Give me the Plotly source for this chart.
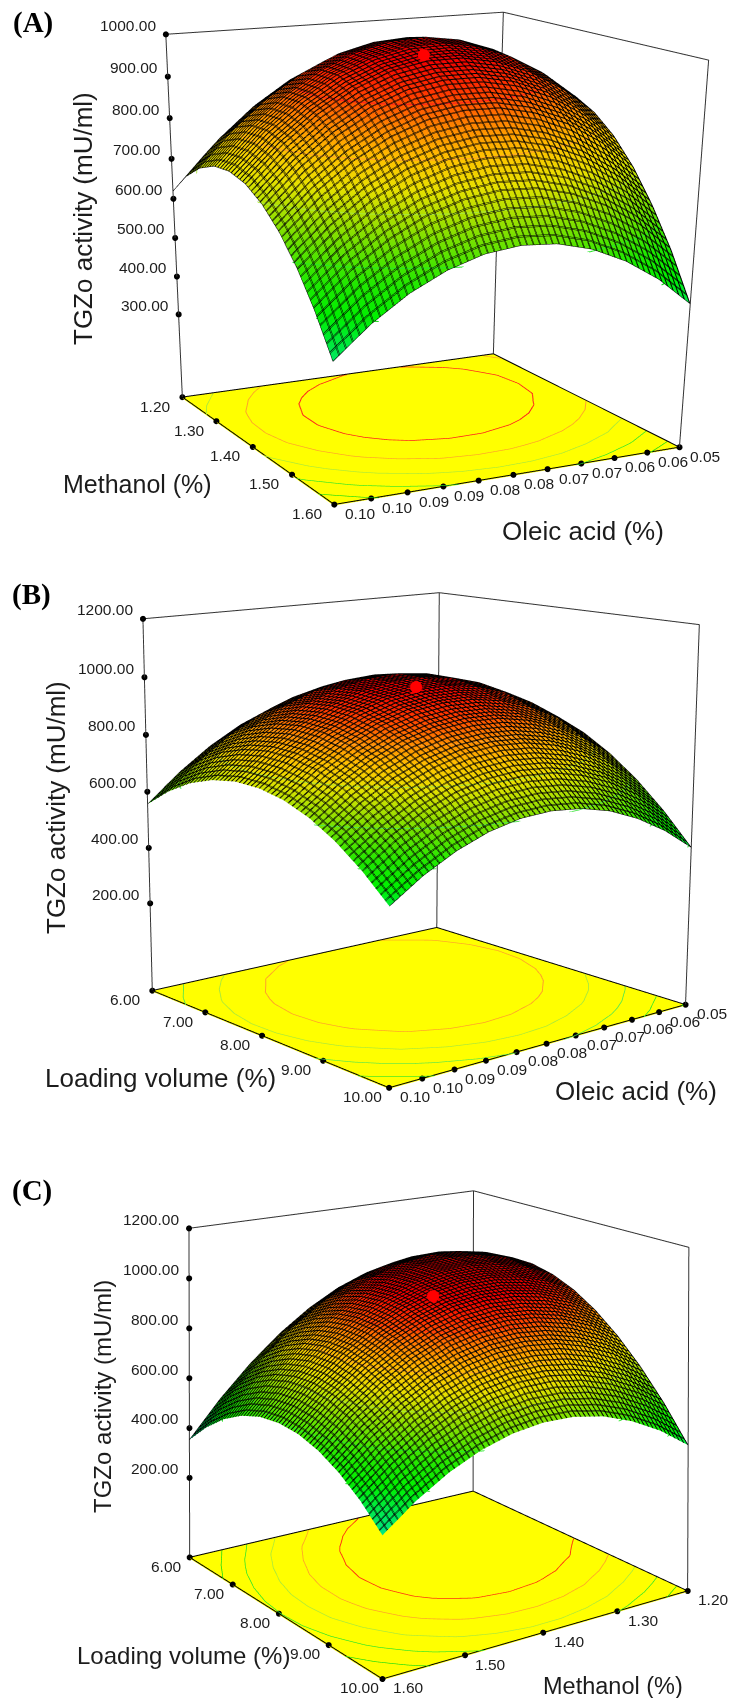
import numpy as np
import plotly.graph_objects as go

W, H = 742, 1698

oleic = [0.05, 0.055, 0.06, 0.065, 0.07, 0.075, 0.08, 0.085, 0.09, 0.095, 0.10]
methanol = [1.20, 1.24, 1.28, 1.32, 1.36, 1.40, 1.44, 1.48, 1.52, 1.56, 1.60]
loading = [6.0, 6.4, 6.8, 7.2, 7.6, 8.0, 8.4, 8.8, 9.2, 9.6, 10.0]

oleic_ticks = [0.05, 0.055, 0.06, 0.065, 0.07, 0.075, 0.08, 0.085, 0.09, 0.095, 0.10]
oleic_labels = ["0.05", "0.06", "0.06", "0.07", "0.07", "0.08", "0.08", "0.09", "0.09", "0.10", "0.10"]
methanol_ticks = [1.2, 1.3, 1.4, 1.5, 1.6]
methanol_labels = ["1.20", "1.30", "1.40", "1.50", "1.60"]
loading_ticks = [6, 7, 8, 9, 10]
loading_labels = ["6.00", "7.00", "8.00", "9.00", "10.00"]
z_ticks_a = [300, 400, 500, 600, 700, 800, 900, 1000]
z_labels_a = ["300.00", "400.00", "500.00", "600.00", "700.00", "800.00", "900.00", "1000.00"]
z_ticks_bc = [200, 400, 600, 800, 1000, 1200]
z_labels_bc = ["200.00", "400.00", "600.00", "800.00", "1000.00", "1200.00"]

# TGZo activity, rows follow the y factor, columns the x factor
activity_a = [
    [781, 837, 876, 900, 908, 900, 875, 835, 779, 707, 619],
    [821, 878, 919, 944, 953, 946, 923, 884, 830, 759, 672],
    [844, 902, 945, 971, 982, 976, 955, 917, 864, 795, 709],
    [850, 910, 954, 982, 994, 990, 970, 934, 882, 814, 730],
    [840, 902, 947, 976, 990, 987, 968, 934, 883, 817, 734],
    [814, 877, 924, 954, 969, 968, 951, 917, 868, 803, 722],
    [772, 836, 884, 916, 932, 932, 917, 885, 837, 773, 693],
    [713, 778, 828, 861, 879, 880, 866, 835, 789, 727, 648],
    [637, 704, 755, 790, 809, 812, 799, 770, 725, 664, 587],
    [546, 614, 666, 702, 723, 727, 715, 688, 644, 585, 509],
    [437, 507, 560, 598, 620, 626, 616, 589, 547, 489, 415],
]
activity_b = [
    [753, 809, 848, 871, 876, 865, 837, 792, 730, 651, 556],
    [797, 855, 896, 921, 928, 919, 893, 850, 791, 714, 621],
    [824, 885, 928, 954, 964, 957, 933, 892, 835, 761, 670],
    [835, 897, 942, 971, 983, 978, 956, 918, 862, 790, 701],
    [829, 893, 941, 971, 985, 982, 963, 926, 873, 803, 716],
    [806, 872, 922, 955, 971, 970, 953, 918, 867, 799, 714],
    [766, 834, 886, 921, 940, 941, 926, 893, 844, 779, 696],
    [709, 780, 834, 871, 892, 895, 882, 852, 805, 741, 661],
    [636, 709, 765, 804, 827, 833, 822, 793, 749, 687, 609],
    [546, 621, 680, 721, 746, 753, 744, 719, 676, 617, 540],
    [440, 517, 577, 621, 647, 657, 651, 627, 586, 529, 455],
]
activity_c = [
    [906, 936, 948, 940, 913, 868, 803, 719, 616, 494, 353],
    [942, 977, 993, 990, 969, 928, 868, 789, 691, 573, 437],
    [959, 999, 1020, 1023, 1006, 970, 915, 840, 747, 635, 504],
    [958, 1003, 1029, 1036, 1024, 993, 943, 874, 786, 678, 552],
    [939, 989, 1020, 1032, 1025, 999, 953, 889, 806, 703, 582],
    [902, 957, 992, 1009, 1007, 986, 945, 886, 808, 710, 593],
    [846, 906, 947, 968, 971, 955, 919, 865, 791, 699, 587],
    [772, 837, 883, 909, 917, 905, 875, 825, 756, 669, 562],
    [680, 750, 800, 832, 844, 838, 812, 768, 704, 621, 519],
    [570, 644, 700, 736, 754, 752, 731, 692, 633, 555, 458],
    [441, 521, 581, 623, 645, 648, 632, 597, 543, 470, 378],
]
levels_a = [900, 800, 700, 600, 500]
levels_b = [850, 750, 650, 550, 450]
levels_c = [900, 800, 700, 600, 500]
level_colors_a = ["#ff1e1e", "#ffa02a", "#a8e83c", "#28e628", "#10dc10"]
level_colors_b = ["#ffa02a", "#a8e83c", "#50e650", "#28e628", "#10dc10"]
level_colors_c = ["#ff3010", "#ffa02a", "#a8e83c", "#28e628", "#10dc10"]
red_a = (0.0775, 1.432, 994)
red_b = (0.0784, 8.3, 999)
red_c = (1.426, 8.364, 1009)

COLORS = [[0.0, "#00e6a0"], [0.116, "#00e850"], [0.217, "#00f000"], [0.304, "#20e800"],
          [0.435, "#80e000"], [0.565, "#e8e000"], [0.652, "#ffc000"], [0.739, "#ff8000"],
          [0.826, "#ff3000"], [0.899, "#f00000"], [1.0, "#c00000"]]
FONT = "Liberation Sans"
TXT = "#1c1c1c"

fig = go.Figure()


def padded(r):
    e = 0.002 * (r[1] - r[0])
    return [r[0] - e, r[1] + e]


def panel(name, xs, ys, table, xr, yr, zr, xt, xl, yt, yl, zt, zl, levels, lev_cols, red, cam, asp, mesh, yshift_x=-27):
    z = np.array(table, float)
    dx = (xr[1] - xr[0]) / mesh
    dy = (yr[1] - yr[0]) / mesh
    fig.add_trace(go.Surface(
        x=xs, y=ys, z=z, scene=name, showscale=False, colorscale=COLORS, cmin=350, cmax=1040,
        hoverinfo="skip",
        lighting=dict(ambient=1, diffuse=0, specular=0, roughness=1, fresnel=0),
        contours=dict(
            x=dict(show=True, start=xr[0], end=xr[1] + dx / 2, size=dx, color="#000000", width=2),
            y=dict(show=True, start=yr[0], end=yr[1] + dy / 2, size=dy, color="#000000", width=2),
        )))
    # second set of mesh lines next to the first, to give them the reference's weight
    fig.add_trace(go.Surface(
        x=xs, y=ys, z=z, scene=name, showscale=False, hidesurface=True, hoverinfo="skip",
        colorscale=[[0, "#000000"], [1, "#000000"]],
        contours=dict(
            x=dict(show=True, start=xr[0] + 0.14 * dx, end=xr[1], size=dx, color="#000000", width=2),
            y=dict(show=True, start=yr[0] + 0.14 * dy, end=yr[1], size=dy, color="#000000", width=2),
        )))
    drop = 8
    for lev, col in zip(levels, lev_cols):
        fig.add_trace(go.Surface(
            x=xs, y=ys, z=z - drop, scene=name, showscale=False, hidesurface=True, hoverinfo="skip",
            colorscale=[[0, col], [1, col]],
            contours=dict(z=dict(show=True, start=lev - drop, end=lev - drop + 1.5, size=1, color=col, width=2,
                                 project=dict(z=True)))))
    x0, x1, y0, y1, z0, z1 = xr[0], xr[1], yr[0], yr[1], zr[0], zr[1]
    fig.add_trace(go.Scatter3d(
        x=[x1, x1, x0, x0, x1], y=[y0, y1, y1, y0, y0], z=[z0] * 5, scene=name, mode="lines",
        line=dict(color="#000000", width=2), hoverinfo="skip", showlegend=False))
    fig.add_trace(go.Scatter3d(
        x=[x1, x1, x0, x0, x0, None, x0, x0], y=[y0, y0, y0, y1, y1, None, y0, y0],
        z=[z0, z1, z1, z1, z0, None, z0, z1], scene=name, mode="lines",
        line=dict(color="#333333", width=2), hoverinfo="skip", showlegend=False))
    fig.add_trace(go.Scatter3d(
        x=list(xt) + [x1] * len(yt) + [x1] * len(zt),
        y=[y1] * len(xt) + list(yt) + [y0] * len(zt),
        z=[z0] * (len(xt) + len(yt)) + list(zt),
        scene=name, mode="markers", marker=dict(size=3.5, color="#000000"), hoverinfo="skip", showlegend=False))
    fig.add_trace(go.Scatter3d(
        x=[red[0]], y=[red[1]], z=[red[2]], scene=name, mode="markers",
        marker=dict(size=7, color="#ff0000"), hoverinfo="skip", showlegend=False))
    ann = []
    f = dict(family=FONT, size=15.5, color=TXT)
    for v, t in zip(xt, xl):
        ann.append(dict(x=v, y=y1, z=z0, text=t, showarrow=False, font=f, xanchor="center", yanchor="middle", xshift=26, yshift=-9))
    for v, t in zip(yt, yl):
        ann.append(dict(x=x1, y=v, z=z0, text=t, showarrow=False, font=f, xanchor="center", yanchor="middle", xshift=yshift_x, yshift=-9))
    for v, t in zip(zt, zl):
        ann.append(dict(x=x1, y=y0, z=v, text=t, showarrow=False, font=f, xanchor="right", yanchor="middle", xshift=-8, yshift=9))
    ax = dict(showgrid=False, zeroline=False, showticklabels=False, ticks="", showline=False,
              showspikes=False, showbackground=False, title=dict(text=""))
    scene = dict(
        domain=dict(x=[0, 1], y=[0, 1]),
        xaxis=dict(ax, range=padded(xr)),
        yaxis=dict(ax, range=padded(yr)),
        zaxis=dict(ax, range=padded(zr), showbackground=True, backgroundcolor="#ffff00"),
        camera=dict(eye=dict(x=cam[0], y=cam[1], z=cam[2]), center=dict(x=cam[3], y=cam[4], z=cam[5]), up=dict(x=0, y=0, z=1)),
        aspectmode="manual", aspectratio=dict(x=asp[0], y=asp[1], z=asp[2]),
        annotations=ann, bgcolor="rgba(0,0,0,0)")
    return scene


sa = panel("scene", oleic, methanol, activity_a, (0.05, 0.10), (1.2, 1.6), (75, 1000),
           oleic_ticks, oleic_labels, methanol_ticks, methanol_labels, z_ticks_a, z_labels_a,
           levels_a, level_colors_a, red_a, (4.039, 7.669, 1.929, 0.580, 0.673, -2.405), (1.604, 1.594, 1.531), 56)
sb = panel("scene2", oleic, loading, activity_b, (0.05, 0.10), (6, 10), (-120, 1200),
           oleic_ticks, oleic_labels, loading_ticks, loading_labels, z_ticks_bc, z_labels_bc,
           levels_b, level_colors_b, red_b, (2.763, 3.219, 0.909, 0.105, -0.025, -0.066), (0.828, 0.811, 0.816), 60)
sc = panel("scene3", methanol, loading, activity_c, (1.2, 1.6), (6, 10), (-120, 1200),
           methanol_ticks, methanol_labels, loading_ticks, loading_labels, z_ticks_bc, z_labels_bc,
           levels_c, level_colors_c, red_c, (5.190, 7.232, 2.637, 0.663, 0.498, 2.452), (1.587, 1.539, 1.484), 64, yshift_x=-23)


def label(text, px, py, size, angle=0, family=FONT, bold=False, color=TXT):
    t = "<b>%s</b>" % text if bold else text
    return dict(text=t, x=px / W, y=1 - py / H, xref="paper", yref="paper", showarrow=False, xanchor="center",
                yanchor="middle", textangle=angle, font=dict(family=family, size=size, color=color))


annots = [
    label("(A)", 33, 23, 29, family="Liberation Serif", bold=True, color="#000000"),
    label("(B)", 31, 594, 29, family="Liberation Serif", bold=True, color="#000000"),
    label("(C)", 32, 1190, 29, family="Liberation Serif", bold=True, color="#000000"),
    label("TGZo activity (mU/ml)", 83, 219, 26, angle=-90),
    label("TGZo activity (mU/ml)", 56, 808, 26, angle=-90),
    label("TGZo activity (mU/ml)", 102, 1397, 24, angle=-90),
    label("Methanol (%)", 137, 484, 25),
    label("Oleic acid (%)", 583, 531, 26),
    label("Loading volume (%)", 160, 1078, 26),
    label("Oleic acid (%)", 636, 1091, 26),
    label("Loading volume (%)", 183, 1655, 24),
    label("Methanol (%)", 613, 1686, 23.5),
]

fig.update_layout(width=W, height=H, margin=dict(l=0, r=0, t=0, b=0), paper_bgcolor="white", showlegend=False,
                  scene=sa, scene2=sb, scene3=sc, annotations=annots)
fig.write_html("out.html", config=dict(displayModeBar=False), post_script="document.body.style.margin='0';")
